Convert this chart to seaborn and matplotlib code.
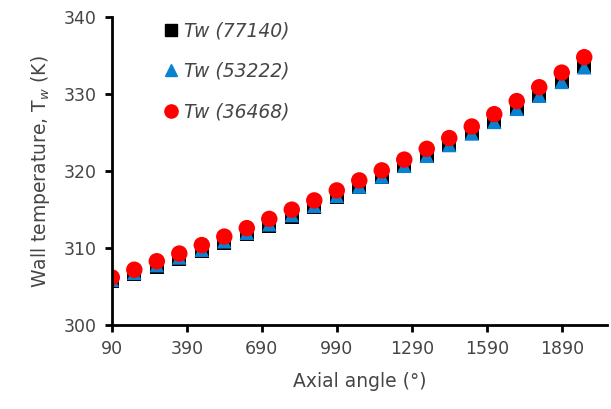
import pandas as pd
import seaborn as sns
import matplotlib.pyplot as plt
from matplotlib.lines import Line2D

# Axial positions (deg) and wall temperatures (K)
axial_angle = list(range(90, 1981, 90))
tw_77140 = [305.7, 306.6, 307.6, 308.6, 309.6, 310.7, 311.8, 312.9, 314.1, 315.3, 316.6,
            317.9, 319.2, 320.6, 321.9, 323.4, 324.9, 326.4, 328.1, 329.8, 331.7, 333.6]
tw_53222 = [305.9, 306.8, 307.8, 308.8, 309.8, 310.9, 312.0, 313.1, 314.3, 315.5, 316.8,
            318.0, 319.3, 320.7, 322.0, 323.4, 324.9, 326.4, 328.1, 329.8, 331.6, 333.5]
tw_36468 = [306.2, 307.2, 308.3, 309.3, 310.4, 311.5, 312.6, 313.8, 315.0, 316.2, 317.5,
            318.8, 320.1, 321.5, 322.9, 324.3, 325.8, 327.4, 329.1, 330.9, 332.8, 334.8]

labels = ['Tw (77140)', 'Tw (53222)', 'Tw (36468)']
colors = ['#000000', '#0A82D2', '#FF0000']
markers = ['s', '^', 'o']
sizes = [100, 110, 140]

sns.set_style('white')
plt.rcParams['font.family'] = ['DejaVu Sans']
text_col = '#454545'

fig = plt.figure(figsize=(6.11, 4.09), dpi=100)
ax = fig.add_axes([0.183, 0.205, 0.81, 0.753])

series = [tw_77140, tw_53222, tw_36468]
for vals, lab, c, m, s in zip(series, labels, colors, markers, sizes):
    df = pd.DataFrame({'angle': axial_angle, 'tw': vals})
    sns.scatterplot(data=df, x='angle', y='tw', ax=ax, color=c, marker=m, s=s,
                    edgecolor='none', linewidth=0, legend=False)

ax.set_xlim(90, 2070)
ax.set_ylim(300, 340)
ax.set_xticks(range(90, 1891, 300))
ax.set_yticks(range(300, 341, 10))

for side in ['top', 'right']:
    ax.spines[side].set_visible(False)
for side in ['left', 'bottom']:
    ax.spines[side].set_color('black')
    ax.spines[side].set_linewidth(2)
ax.tick_params(axis='both', direction='out', length=5, width=2, color='black',
               labelsize=12.5, labelcolor=text_col, pad=6, bottom=True, left=True)

ax.set_xlabel('Axial angle (°)', fontsize=13.5, color=text_col, labelpad=10)
ax.set_ylabel('Wall temperature, T$_w$ (K)', fontsize=13.5, color=text_col, labelpad=8)

handles = [Line2D([], [], linestyle='none', marker=m, color=c, markersize=8.5 if m != 'o' else 9.5)
           for m, c in zip(markers, colors)]
leg = ax.legend(handles, labels, loc='upper left', bbox_to_anchor=(0.07, 1.03),
                frameon=False, handletextpad=0.1, labelspacing=1.15, handlelength=1.2,
                borderaxespad=0.3, prop={'size': 13.5, 'style': 'italic'})
for t in leg.get_texts():
    t.set_color(text_col)

fig.savefig('out.png', dpi=100)
